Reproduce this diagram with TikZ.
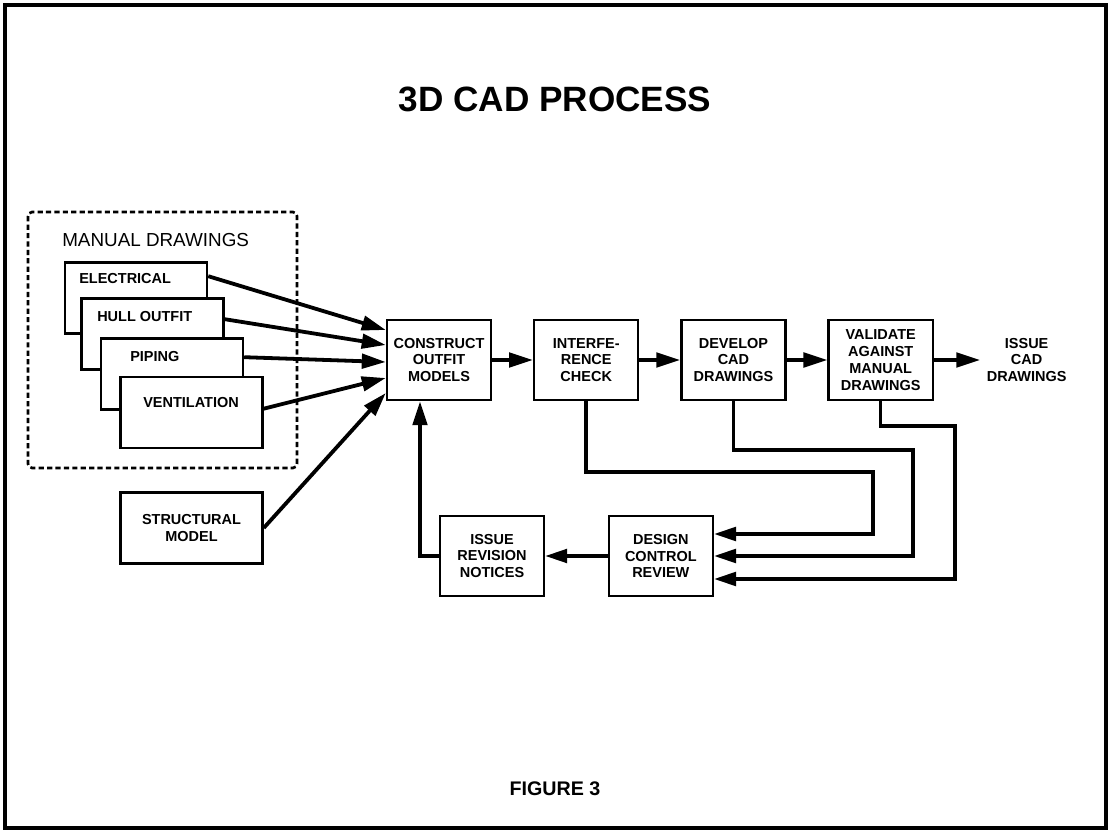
\documentclass[tikz,border=0pt]{standalone}
\usepackage{fontspec}
\setmainfont{Liberation Sans}
\usepackage{tikz}
\usetikzlibrary{positioning}
\usetikzlibrary{calc}
\usetikzlibrary{arrows.meta}
\tikzstyle{stage} = [draw, line width=1.7pt, minimum width=2.6cm, minimum height=2cm, align=center, inner sep=2pt, font=\bfseries\fontsize{10.3}{12}\selectfont]
\tikzstyle{sheet} = [draw, fill=white, line width=1.7pt, minimum width=3.55cm, minimum height=1.78cm, align=center, font=\bfseries\fontsize{10.3}{12}\selectfont]
\tikzstyle{sheetLabel} = [anchor=west, inner sep=0pt, font=\bfseries\fontsize{10.3}{12}\selectfont]
\tikzstyle{group} = [draw, line width=1.9pt, dash pattern=on 0.13cm off 0.08cm, rounded corners=3pt]
\tikzstyle{flow} = [draw, line width=2.7pt, -{Triangle[length=0.6cm, width=0.36cm]}]
\tikzstyle{loop} = [draw, line width=2.5pt, -{Triangle[length=0.55cm, width=0.34cm]}]

\begin{document}
\begin{tikzpicture}[x=0.025cm, y=-0.025cm]
	\useasboundingbox (0,0) rectangle (1110,832);
	\draw[line width=3.2pt] (5,5) rectangle (1106,828);

	\node[font=\bfseries\fontsize{25}{30}\selectfont] (title) at (555,99) {3D CAD PROCESS};
	\node[font=\bfseries\fontsize{14}{16}\selectfont] (figure) at (555,789) {FIGURE 3};

	% manual drawings, stacked sheets
	\draw[group] (28,212) rectangle (297,468);
	\node[anchor=west, inner sep=0pt, font=\fontsize{13.4}{16}\selectfont] (manualTitle) at (62,240) {MANUAL DRAWINGS};
	\node[sheet] (electrical) at (136,298) {};
	\node[sheetLabel] (electricalLabel) at (79,279) {ELECTRICAL};
	\node[sheet] (hull) at (152.5,334) {};
	\node[sheetLabel] (hullLabel) at (97,317) {HULL OUTFIT};
	\node[sheet] (piping) at (172,374) {};
	\node[sheetLabel] (pipingLabel) at (130,357) {PIPING};
	\node[sheet] (ventilation) at (191.5,412.5) {};
	\node[sheetLabel] (ventilationLabel) at (143,403) {VENTILATION};
	\node[sheet] (structural) at (191.5,528) {STRUCTURAL\\MODEL};

	% main chain
	\node[stage] (construct) at (439,360) {CONSTRUCT\\OUTFIT\\MODELS};
	\node[stage, right = 1.02cm of construct] (interference) {INTERFE-\\RENCE\\CHECK};
	\node[stage, right = 1.02cm of interference] (develop) {DEVELOP\\CAD\\DRAWINGS};
	\node[stage, right = 1.02cm of develop] (validate) {VALIDATE\\AGAINST\\MANUAL\\DRAWINGS};
	\node[align=center, inner sep=1pt, font=\bfseries\fontsize{10.3}{12}\selectfont, right = 1.28cm of validate] (issueCad) {ISSUE\\CAD\\DRAWINGS};

	% review loop
	\node[stage] (revision) at (492,556) {ISSUE\\REVISION\\NOTICES};
	\node[stage, right = 1.56cm of revision] (review) {DESIGN\\CONTROL\\REVIEW};

	\path[flow] ($(electrical.north east)+(0,15)$) -- ($(construct.west)+(0,-30)$);
	\path[flow] ($(hull.north east)+(0,22)$) -- ($(construct.west)+(0,-15)$);
	\path[flow] ($(piping.north east)+(0,20)$) -- ($(construct.west)+(0,2)$);
	\path[flow] ($(ventilation.north east)+(0,33)$) -- ($(construct.west)+(0,18)$);
	\path[flow] (structural.east) -- ($(construct.west)+(0,33)$);
	\path[flow] (construct) -- (interference);
	\path[flow] (interference) -- (develop);
	\path[flow] (develop) -- (validate);
	\path[flow, shorten >=0.12cm] (validate) -- (issueCad);

	\path[loop] (interference.south) |- (873,472) |- ($(review.east)+(0,-22)$);
	\path[loop] (develop.south) |- (913,450) |- (review.east);
	\path[loop] (validate.south) |- (955,426) |- ($(review.east)+(0,23)$);
	\path[loop] (review) -- (revision);
	\path[flow] (revision.west) -| ($(construct.south)+(-19,0)$);
\end{tikzpicture}
\end{document}
